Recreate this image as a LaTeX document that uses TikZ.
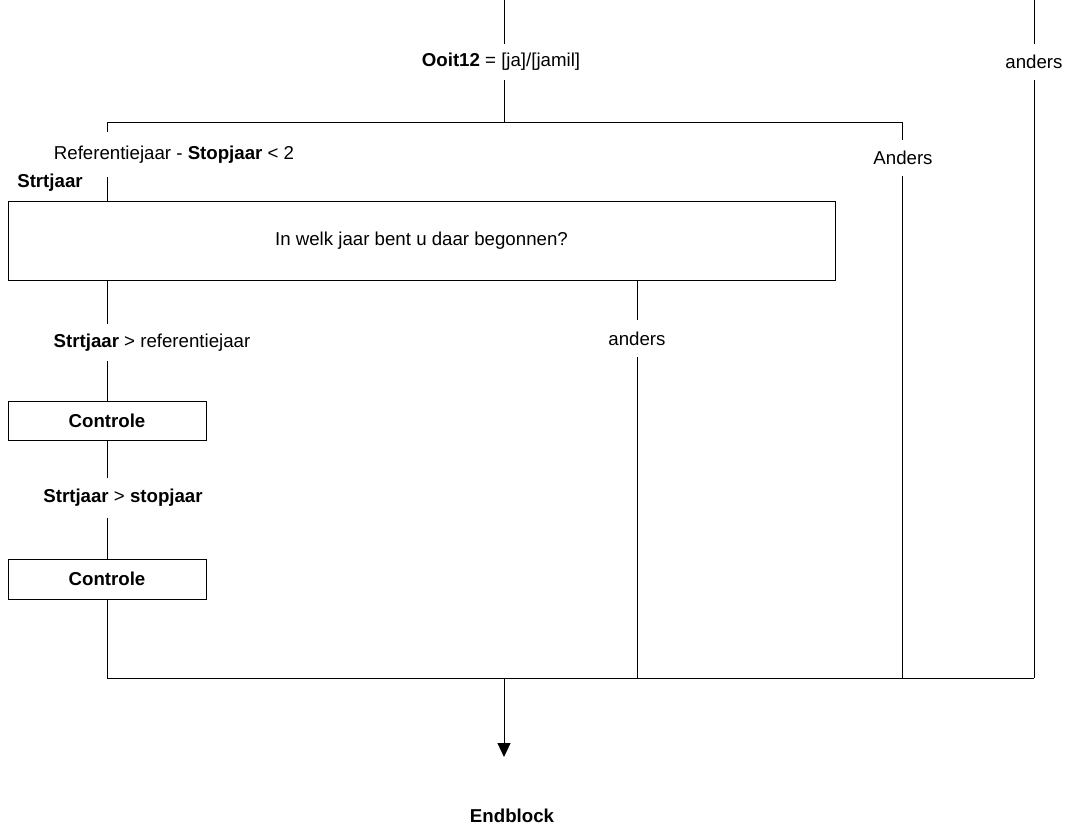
\documentclass[tikz,border=0pt]{standalone}
\usepackage{fontspec}
\setmainfont{Liberation Sans}
\usetikzlibrary{arrows.meta}
\begin{document}
\begin{tikzpicture}[x=1pt,y=-1pt,
  ln/.style={draw=black,line width=1pt},
  txt/.style={inner sep=0pt,font=\fontsize{18.67}{22}\selectfont},
  lbl/.style={txt,minimum height=#1},
  lbl/.default=36pt,
  box/.style={draw=black,line width=1pt,inner sep=0pt,font=\fontsize{18.67}{22}\selectfont}]
\useasboundingbox (0,0) rectangle (1066,831);
\fill[white] (0,0) rectangle (1066,831);
% coordinates
\coordinate (t1) at (504.5,0);
\coordinate (j1) at (504.5,122);
\coordinate (t2) at (1034,0);
\coordinate (jl) at (107,122);
\coordinate (jr) at (902,122);
\coordinate (bl) at (107,678);
\coordinate (bm) at (504,678);
\coordinate (br) at (1034,678);
\coordinate (tip) at (504,757);
% nodes
\node[lbl] (q1) at (501,62) {\textbf{Ooit12} = [ja]/[jamil]};
\node[lbl] (q2) at (1034,62) {anders};
\node[lbl=45pt] (c1) at (174,154.5) {Referentiejaar - \textbf{Stopjaar} < 2};
\node[lbl] (c2) at (903,158) {Anders};
\node[txt] (sj) at (50,183) {\textbf{Strtjaar}};
\node[box,minimum width=827pt,minimum height=79pt] (b1) at (421.5,240.5) {In welk jaar bent u daar begonnen?};
\node[lbl=37pt] (c3) at (152,342.5) {\textbf{Strtjaar} > referentiejaar};
\node[lbl=37pt] (c4) at (637,338.5) {anders};
\node[box,minimum width=198pt,minimum height=39pt] (b2) at (107,420.5) {\textbf{Controle}};
\node[lbl=40pt] (c5) at (123,498) {\textbf{Strtjaar} > \textbf{stopjaar}};
\node[box,minimum width=198pt,minimum height=40pt] (b3) at (107,579) {\textbf{Controle}};
\node[txt] (end) at (512,816) {\textbf{Endblock}};
% connectors
\draw[ln] (t1) -- (t1 |- q1.north);
\draw[ln] (t1 |- q1.south) -- (j1);
\draw[ln] (jl) -- (jr);
\draw[ln] (jl) -- (jl |- c1.north);
\draw[ln] (jl |- c1.south) -- (jl |- b1.north);
\draw[ln] (jr) -- (jr |- c2.north);
\draw[ln] (jr |- c2.south) -- (jr |- br);
\draw[ln] (t2) -- (t2 |- q2.north);
\draw[ln] (t2 |- q2.south) -- (br);
\draw[ln] (jl |- b1.south) -- (jl |- c3.north);
\draw[ln] (jl |- c3.south) -- (b2.north);
\draw[ln] (b2.south) -- (b2.south |- c5.north);
\draw[ln] (b2.south |- c5.south) -- (b3.north);
\draw[ln] (b3.south) -- (bl);
\draw[ln] (c4 |- b1.south) -- (c4.north);
\draw[ln] (c4.south) -- (c4 |- bl);
\draw[ln] (bl) -- (br);
\draw[ln,-{Triangle[width=13pt,length=14pt]}] (bm) -- (tip);
\end{tikzpicture}
\end{document}
